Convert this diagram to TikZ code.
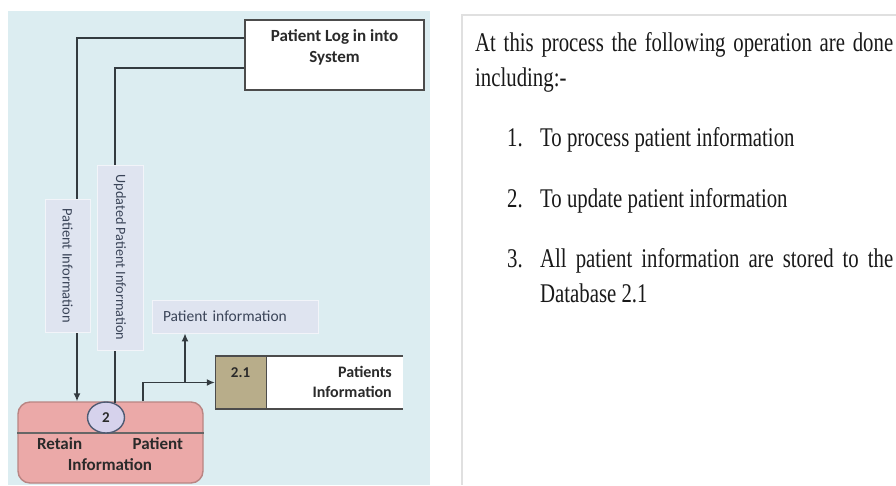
\documentclass[tikz,border=0pt]{standalone}
\usepackage{fontspec}
\setmainfont{Liberation Serif}[FakeStretch=0.77]
\newfontfamily\dfdfont{Carlito}
\usetikzlibrary{arrows.meta,calc,shapes.geometric}

\definecolor{panelblue}{HTML}{DCEDF1}
\definecolor{flowfill}{HTML}{DFE4F0}
\definecolor{procfill}{HTML}{EBA9A8}
\definecolor{procedge}{HTML}{B98583}
\definecolor{idfill}{HTML}{D6D2EC}
\definecolor{idedge}{HTML}{4F5B73}
\definecolor{storeid}{HTML}{B8AD8A}
\definecolor{lineclr}{HTML}{333B40}
\definecolor{flowtext}{HTML}{3A4458}
\definecolor{dfdtext}{HTML}{2A2A2A}
\definecolor{framegray}{HTML}{E0E0E0}

\begin{document}
\begin{tikzpicture}[x=1pt,y=-1pt,
  conn/.style={draw=lineclr, line width=1.4pt},
  tip/.style={-{Latex[length=8pt,width=7pt]}},
  boldtxt/.style={font=\dfdfont\bfseries\fontsize{17}{21}\selectfont, text=dfdtext, inner sep=0pt},
  flowlab/.style={fill=flowfill, draw=white!60!flowfill, line width=0.8pt,
    font=\dfdfont\fontsize{14.5}{17}\selectfont, text=flowtext, inner sep=0pt},
  bodytxt/.style={font=\fontsize{27}{35}\selectfont, text=black!90, inner sep=0pt, anchor=base west},
  storeline/.style={draw=black!70, line width=1.6pt}
]
\useasboundingbox (0,0) rectangle (896,485);
\fill[white] (0,0) rectangle (896,485);

% ---- data flow diagram panel ----
\fill[panelblue] (8,11) rectangle (430,485);

\coordinate (c1) at (77,38);
\coordinate (c2) at (115,68);
\coordinate (c3) at (143,381);
\coordinate (c4) at (185,381);
\coordinate (divy) at (0,433);

% external entity
\node[draw=black!70, line width=1.8pt, fill=white, minimum width=179pt,
      minimum height=70pt, inner sep=0pt] (login) at (334.5,55) {};
\node[boldtxt, align=center, anchor=north] (logintext) at (334.5,29.5)
  {Patient Log in into\\System};

% process 2
\node[draw=procedge, fill=procfill, line width=1.4pt, rounded corners=12pt,
      minimum width=185pt, minimum height=81pt, inner sep=0pt] (proc) at (110.5,442.5) {};
\draw[draw=black!60, line width=1.4pt] (proc.west |- divy) -- (proc.east |- divy);
\node[draw=idedge, fill=idfill, ellipse, line width=1.4pt, minimum width=37pt,
      minimum height=31pt, inner sep=0pt,
      font=\dfdfont\bfseries\fontsize{15}{18}\selectfont, text=dfdtext] (pid) at (106,417.5) {2};
\node[boldtxt, align=center, anchor=north] (proctext) at (110,437.5)
  {\makebox[146pt]{Retain\hfill Patient}\\Information};

% data store 2.1
\node[minimum width=188pt, minimum height=53pt, inner sep=0pt] (store) at (309,382.5) {};
\fill[white] (store.north west) rectangle (store.south east);
\node[fill=storeid, storeline, minimum width=51pt, minimum height=53pt,
      inner sep=0pt, anchor=west] (sid) at (store.west) {};
\draw[storeline] (store.north west) -- (store.north east);
\draw[storeline] (store.south west) -- (store.south east);
\node[font=\dfdfont\bfseries\fontsize{15}{18}\selectfont, text=dfdtext,
      inner sep=0pt, anchor=base] (sidtext) at (240.5,377) {2.1};
\node[font=\dfdfont\bfseries\fontsize{16}{20}\selectfont, text=dfdtext,
      inner sep=0pt, align=right, anchor=north east] (sname) at (392,366.5)
  {Patients\\Information};

% data flows
\draw[conn,tip] (login.west |- c1) -| (proc.north -| c1);
\draw[conn] (login.west |- c2) -| ($(pid.north -| c2)+(0,1.5)$);
\draw[conn,tip] (proc.north -| c3) |- (sid.west);

% flow labels
\node[flowlab, rotate=-90, minimum width=133pt, minimum height=45pt] (lab1)
  at (67.5,265.5) {Patient Information};
\node[flowlab, rotate=-90, minimum width=185pt, minimum height=46pt,
      font=\dfdfont\fontsize{14.2}{17}\selectfont] (lab2)
  at (120,257.5) {Updated Patient Information};
\node[flowlab, minimum width=166pt, minimum height=33pt, text width=144pt,
      align=left, font=\dfdfont\fontsize{15.5}{18}\selectfont] (lab3) at (235,316.5)
  {Patient information};
\draw[conn,tip] (c4 |- sid.west) -- (lab3.south -| c4);

% ---- description panel ----
\draw[framegray, line width=1.5pt] (462,485) -- (462,15) -- (896,15);

\node[bodytxt] (intro1) at (475,51)
  {\makebox[418pt][s]{At this process the following operation are done}};
\node[bodytxt] (intro2) at (475,86) {including:-};

\node[bodytxt] (n1) at (507,146) {1.};
\node[bodytxt] (t1) at (540,146) {To process patient information};
\node[bodytxt] (n2) at (507,207) {2.};
\node[bodytxt] (t2) at (540,207) {To update patient information};
\node[bodytxt] (n3) at (507,267) {3.};
\node[bodytxt] (t3a) at (540,267)
  {\makebox[353pt][s]{All patient information are stored to the}};
\node[bodytxt] (t3b) at (540,302) {Database 2.1};
\end{tikzpicture}
\end{document}
